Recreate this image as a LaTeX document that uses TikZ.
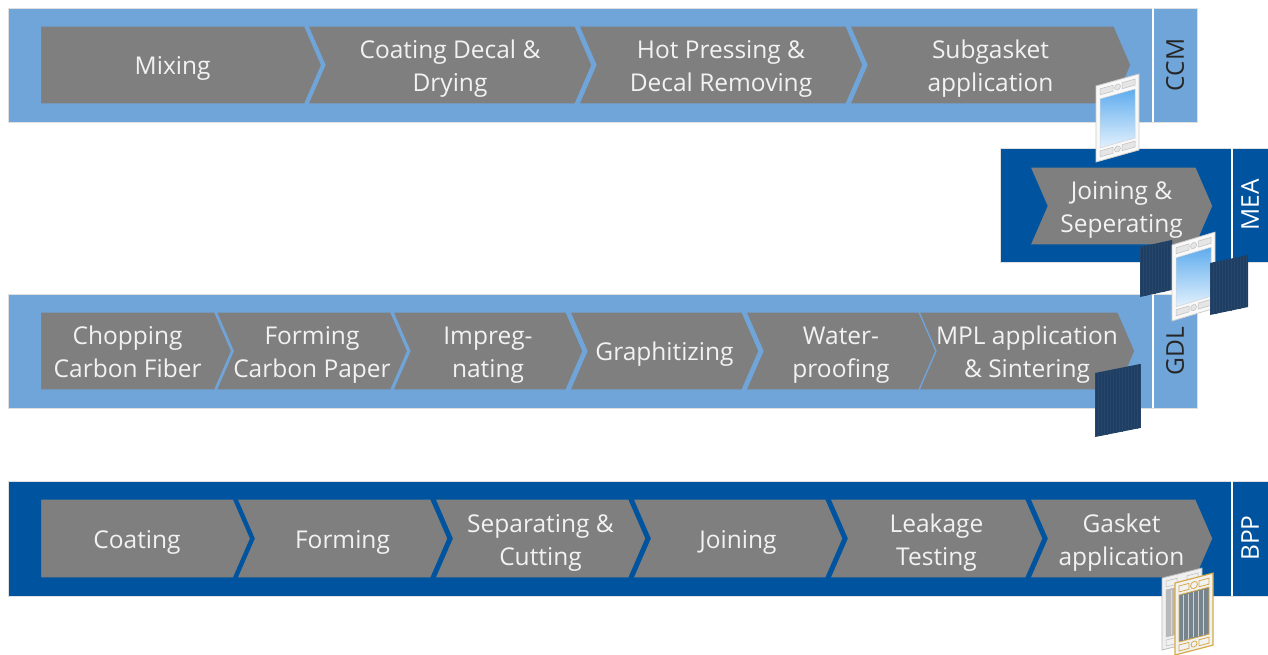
\documentclass[tikz,border=0pt]{standalone}
\usepackage{fontspec}
\setmainfont{Open Sans}
\usetikzlibrary{shapes.symbols}

\definecolor{lightband}{RGB}{112,165,218}
\definecolor{darkband}{RGB}{0,84,159}
\definecolor{stepgray}{RGB}{127,127,127}
\definecolor{steptext}{RGB}{242,242,242}
\definecolor{platedark}{RGB}{31,62,100}
\definecolor{framegold}{RGB}{214,170,70}
\definecolor{winblue}{RGB}{95,172,238}
\definecolor{winpale}{RGB}{226,241,253}
\definecolor{corrugated}{RGB}{118,132,142}

\begin{document}
\begin{tikzpicture}[
        x=1pt, y=-1pt,
        font=\fontsize{24.5}{33}\selectfont
    ]
    \tikzset{
        band/.style = {draw=gray!25, line width=0.8},
        lband/.style = {band, fill=lightband},
        dband/.style = {band, fill=darkband},
        divider/.style = {white, line width=1.5},
        stepnode/.style = {signal, signal to=east, signal from=west,
            signal pointer angle=133, fill=stepgray, text=steptext,
            align=center, inner sep=0pt, minimum height=78,
            text height=19, text depth=0, line width=1.2},
        firstnode/.style = {stepnode, signal from=nowhere, anchor=west},
        twoline/.style = {text height=53, text depth=0},
        onl/.style = {draw=lightband},
        ond/.style = {draw=darkband, minimum height=79},
        tagl/.style = {rotate=90, inner sep=0pt, text=black!85},
        tagd/.style = {rotate=90, inner sep=0pt, text=white},
        sheet/.style = {fill=platedark},
        sheetgrid/.style = {step=3, platedark!96!white, line width=0.15},
        memframe/.pic = {
            \path[fill=white!95!gray, draw=gray!40, line width=0.8] (0,0) rectangle (43,76);
            \shade[top color=winblue, bottom color=winpale, draw=gray!35, line width=0.5]
                (4,14) rectangle (39,63);
            \path[fill=gray!20, draw=gray!50, line width=0.5]
                (4,4) rectangle (17,10) (26,4) rectangle (39,10) (21.5,7) circle (3)
                (4,66) rectangle (17,72) (26,66) rectangle (39,72) (21.5,69) circle (3);
        },
    }
    \useasboundingbox (0,0) rectangle (1268,655);
    % bands
    \path[lband] (8,8) rectangle (1197,122);
    \path[dband] (1000,148) rectangle (1268,262);
    \path[lband] (8,294) rectangle (1197,408);
    \path[dband] (8,481) rectangle (1268,596);
    \draw[divider] (1153,8) -- (1153,122);
    \draw[divider] (1232,148) -- (1232,262);
    \draw[divider] (1153,294) -- (1153,408);
    \draw[divider] (1232,481) -- (1232,596);
    %
    % CCM
    \node[firstnode, onl, minimum width=281] at (40,65) (mix) {Mixing};
    \node[stepnode, onl, twoline, minimum width=284] at (450,65) (decal) {Coating Decal \&\\Drying};
    \node[stepnode, onl, twoline, minimum width=284] at (721,65) (press) {Hot Pressing \&\\Decal Removing};
    \node[stepnode, onl, twoline, minimum width=281] at (990.5,65) (subg) {Subgasket\\application};
    \node[tagl] at (1175,65) (ccm) {CCM};
    %
    % MEA
    \node[stepnode, ond, twoline, minimum width=183, minimum height=78] at (1121.5,206) (join) {Joining \&\\Seperating};
    \node[tagd] at (1250,205) (mea) {MEA};
    %
    % GDL
    \node[firstnode, onl, twoline, minimum width=191] at (40,351) (chop) {Chopping\\Carbon Fiber};
    \node[stepnode, onl, twoline, minimum width=188] at (312,351) (paper) {Forming\\Carbon Paper};
    \node[stepnode, onl, twoline, minimum width=190] at (488,351) (impr) {Impreg-\\nating};
    \node[stepnode, onl, minimum width=189] at (664.5,351) (graph) {Graphitizing};
    \node[stepnode, onl, twoline, minimum width=190] at (841,351) (water) {Water-\\proofing};
    \node[stepnode, onl, twoline, minimum width=208] at (1027,351) (mpl) {MPL application\\\& Sintering};
    \node[tagl] at (1175,351) (gdl) {GDL};
    %
    % BPP
    \node[firstnode, ond, minimum width=210] at (40,538.5) (coat) {Coating};
    \node[stepnode, ond, minimum width=211] at (342.5,538.5) (form) {Forming};
    \node[stepnode, ond, twoline, minimum width=211] at (540.5,538.5) (cut) {Separating \&\\Cutting};
    \node[stepnode, ond, minimum width=210] at (738,538.5) (bjoin) {Joining};
    \node[stepnode, ond, twoline, minimum width=213] at (936.5,538.5) (leak) {Leakage\\Testing};
    \node[stepnode, ond, twoline, minimum width=183] at (1121.5,538.5) (gask) {Gasket\\application};
    \node[tagd] at (1250,538) (bpp) {BPP};
    %
    % membrane with subgasket
    \pic[shift={(1096,86)}, yslant=0.28] {memframe};
    %
    % MEA: membrane between two GDL sheets
    \begin{scope}[shift={(1140,247)}, yslant=0.22]
        \fill[sheet] (0,0) rectangle (32,50);
        \draw[sheetgrid] (0,0) grid (32,50);
    \end{scope}
    \pic[shift={(1172,245)}, yslant=0.3] {memframe};
    \begin{scope}[shift={(1210,263)}, yslant=0.21]
        \fill[sheet] (0,0) rectangle (38,52);
        \draw[sheetgrid] (0,0) grid (38,52);
    \end{scope}
    %
    % GDL sheet
    \begin{scope}[shift={(1095,373)}, yslant=0.2]
        \fill[sheet] (0,0) rectangle (45,64);
        \draw[sheetgrid] (0,0) grid (45,64);
    \end{scope}
    %
    % bipolar plates
    \begin{scope}[shift={(1162,578)}, yslant=0.25]
        \path[fill=gray!12, draw=gray!55, line width=0.8] (0,0) rectangle (40,72);
        \path[fill=gray!55, draw=gray!60] (4,13) rectangle (36,60);
        \draw[gray!30, line width=1] (9,14) -- (9,59) (15,14) -- (15,59) (21,14) -- (21,59)
            (27,14) -- (27,59) (33,14) -- (33,59);
        \draw[gray!55, line width=0.5] (4,4) rectangle (15,10) (25,4) rectangle (36,10)
            (4,63) rectangle (15,69) (25,63) rectangle (36,69);
    \end{scope}
    \begin{scope}[shift={(1175,583)}, yslant=0.26]
        \path[fill=white!90!gray, draw=framegold, line width=1.2] (0,0) rectangle (38,72);
        \path[fill=corrugated, draw=framegold, line width=0.8] (4,13) rectangle (34,60);
        \draw[gray!35, line width=1] (8,14) -- (8,59) (13,14) -- (13,59) (18,14) -- (18,59)
            (23,14) -- (23,59) (28,14) -- (28,59);
        \draw[framegold, line width=0.8] (4,4) rectangle (14,10) (24,4) rectangle (34,10)
            (19,7) circle (3.5) (4,63) rectangle (14,69) (24,63) rectangle (34,69)
            (19,66) circle (3);
    \end{scope}
\end{tikzpicture}
\end{document}
